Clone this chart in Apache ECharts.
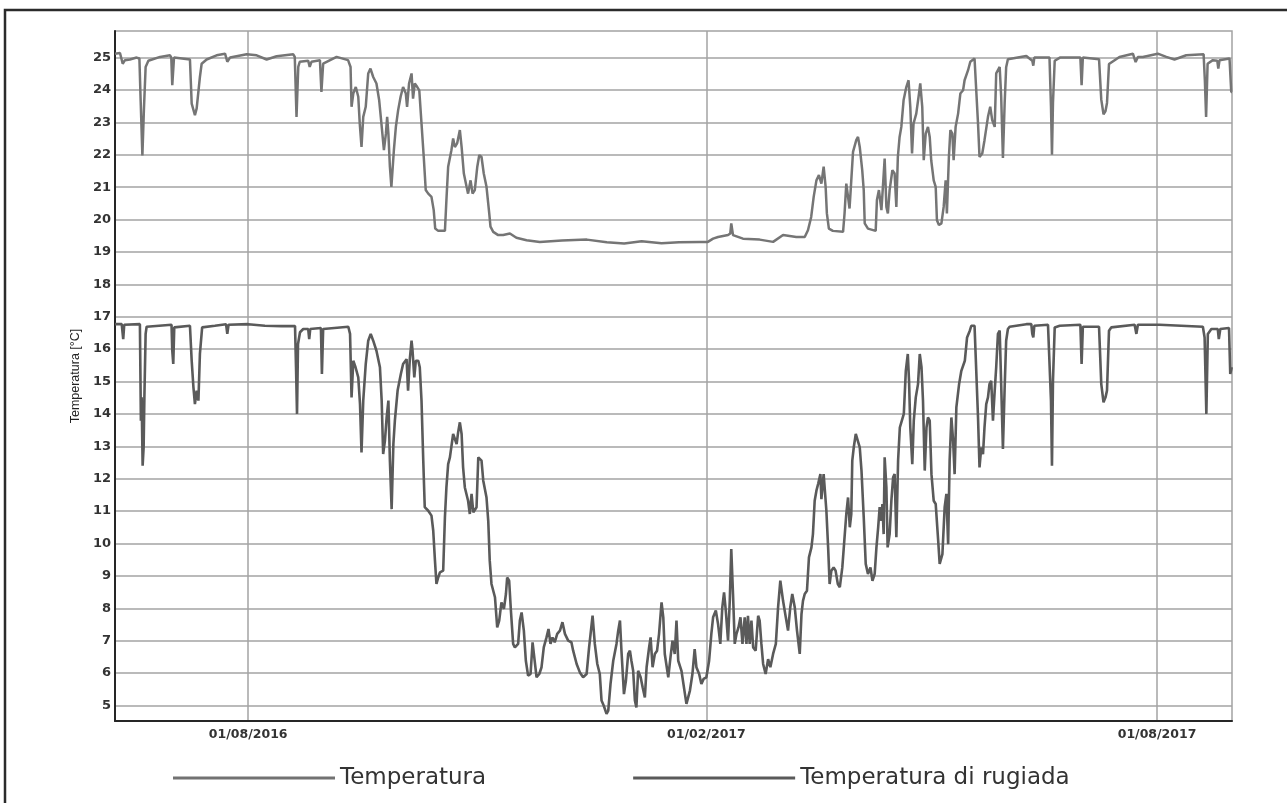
<!DOCTYPE html>
<html>
<head>
<meta charset="utf-8">
<script src="https://cdn.jsdelivr.net/npm/echarts@6/dist/echarts.min.js"></script>
<style>
  html, body { margin: 0; padding: 0; background: #fff; }
  #chart { width: 1287px; height: 803px; }
</style>
</head>
<body>
<div id="chart"></div>
<script>
// Day 0 of the readings (x values below are days since this date, UTC)
const START = Date.UTC(2016, 5, 8);
const DAY = 86400000;

const seriesNames = ['Temperatura', 'Temperatura di rugiada'];
const dateTicks = ['2016-08-01', '2017-02-01', '2017-08-01'];
const yTicks = [5, 6, 7, 8, 9, 10, 11, 12, 13, 14, 15, 16, 17, 18, 19, 20, 21, 22, 23, 24, 25];

// Temperatura [°C]: [day, value]
const tempPoints = [
  [0.5,25.12],[2.5,25.14],[3.6,24.81],[4.5,24.92],[6.5,24.94],[9.2,25.0],[10.3,24.97],[10.8,23.68],[11.5,21.98],[12.1,23.37],
  [12.8,24.71],[13.9,24.9],[18.6,25.02],[22.6,25.07],[23.1,25.0],[23.5,24.15],[24.2,25.0],[30.6,24.94],[31.3,23.58],[32.6,23.22],
  [33.3,23.43],[34.0,23.48],[34.6,24.4],[35.3,24.81],[37.3,24.94],[41.3,25.07],[44.7,25.12],[45.6,24.87],[46.7,25.0],[53.4,25.1],
  [57.4,25.07],[61.4,24.94],[65.4,25.04],[72.1,25.1],[72.7,25.02],[73.4,23.17],[74.1,24.71],[74.7,24.87],[78.1,24.9],[78.7,24.71],
  [79.4,24.87],[82.8,24.92],[83.4,23.94],[84.1,24.81],[89.5,25.02],[94.1,24.92],[95.1,24.71],[95.5,23.48],[96.2,23.89],[97.2,24.09],
  [98.2,23.79],[98.8,22.96],[99.5,22.24],[100.2,23.17],[101.2,23.48],[102.2,24.51],[103.1,24.66],[104.2,24.4],[105.5,24.2],[106.6,23.68],
  [107.5,22.96],[108.5,22.14],[109.3,22.65],[109.8,23.17],[110.3,22.65],[110.9,21.63],[111.5,21.01],[112.5,22.14],[113.3,22.86],[114.2,23.37],
  [115.2,23.79],[116.2,24.09],[117.3,23.89],[117.8,23.48],[118.6,24.2],[119.6,24.51],[120.2,23.73],[120.9,24.2],[121.9,24.09],[122.7,23.99],
  [123.6,22.96],[124.5,21.93],[125.3,20.91],[126.3,20.8],[127.6,20.7],[128.5,20.29],[129.1,19.72],[130.3,19.65],[133.0,19.65],[133.6,20.6],
  [134.3,21.63],[135.6,22.14],[136.3,22.5],[137.0,22.24],[137.9,22.35],[139.0,22.76],[139.7,22.24],[140.6,21.42],[141.7,21.01],[142.3,20.8],
  [143.3,21.21],[144.1,20.8],[145.0,20.91],[146.0,21.63],[146.8,21.99],[147.7,21.93],[148.6,21.42],[149.7,21.01],[150.8,20.19],[151.3,19.78],
  [152.4,19.62],[154.4,19.52],[156.4,19.52],[159.1,19.57],[161.7,19.44],[165.8,19.36],[171.1,19.31],[180,19.35],[190,19.38],[198,19.3],
  [205,19.26],[212,19.33],[220,19.27],[227,19.3],[235.3,19.31],[238.6,19.31],[240.7,19.41],[242.7,19.46],[246.7,19.52],[247.6,19.57],
  [248.0,19.88],[248.7,19.52],[252.7,19.41],[259.4,19.38],[264.8,19.31],[268.8,19.52],[274.1,19.46],[277.5,19.46],[278.8,19.67],[280.1,20.08],
  [281.1,20.7],[282.2,21.21],[283.2,21.37],[284.2,21.11],[285.1,21.63],[285.9,21.01],[286.4,20.19],[287.2,19.72],[288.8,19.65],[292.9,19.62],
  [293.5,20.19],[294.2,21.11],[294.9,20.7],[295.5,20.34],[296.2,21.21],[296.9,22.09],[298.2,22.45],[298.9,22.55],[299.6,22.24],[300.6,21.52],
  [301.2,20.91],[301.6,19.88],[302.9,19.72],[306.0,19.65],[306.5,20.6],[307.3,20.91],[308.3,20.29],[308.9,21.01],[309.6,21.88],[310.3,20.39],
  [310.9,20.19],[311.6,20.91],[312.7,21.52],[313.6,21.42],[314.3,20.39],[314.9,21.93],[315.6,22.55],[316.3,22.86],[317.2,23.68],[318.3,24.09],
  [319.2,24.3],[319.9,23.48],[320.6,22.04],[321.2,22.96],[322.3,23.27],[323.4,23.89],[323.9,24.2],[324.7,23.48],[325.3,21.83],[326.1,22.65],
  [327.0,22.86],[327.7,22.55],[328.3,21.83],[329.3,21.21],[330.1,21.01],[330.6,19.98],[331.4,19.83],[332.4,19.88],[333.3,20.39],[334.1,21.21],
  [334.6,20.19],[335.4,21.93],[336.0,22.76],[336.8,22.65],[337.3,21.83],[338.1,22.86],[339.1,23.27],[340.0,23.89],[341.1,23.99],[341.7,24.3],
  [343.1,24.61],[344.0,24.87],[345.7,24.97],[346.4,24.92],[347.1,22.96],[347.7,21.93],[348.8,22.04],[349.7,22.45],[351.1,23.17],[352.0,23.48],
  [352.8,23.07],[353.8,22.86],[354.4,24.51],[355.8,24.71],[356.4,23.8],[357.1,21.9],[357.8,23.6],[358.4,24.7],[359.1,24.95],[366.5,25.05],
  [368.9,24.9],[369.3,24.75],[369.7,25.0],[375.8,25.0],[376.4,23.5],[376.8,22.0],[377.2,23.6],[377.9,24.9],[380,25.0],[388.2,25.0],
  [388.7,24.15],[389.2,25.0],[395.7,24.95],[396.6,23.7],[397.5,23.25],[398.3,23.35],[398.9,23.6],[399.7,24.8],[403.9,25.02],[409.3,25.12],
  [410.4,24.86],[411.3,25.02],[413.3,25.02],[419.3,25.12],[422.7,25.02],[426.0,24.94],[430.7,25.07],[437.7,25.1],[438.2,24.3],[438.7,23.17],
  [439.3,24.81],[441.4,24.92],[443.2,24.9],[443.6,24.66],[444.1,24.92],[448.1,24.97],[448.8,23.94],[449.1,23.94]
];

// Temperatura di rugiada [°C]: [day, value]
const dewPoints = [
  [0.5,16.77],[3.2,16.77],[3.8,16.31],[4.2,16.75],[10.5,16.77],[10.9,13.79],[11.2,14.51],[11.6,12.4],[12.0,12.97],[12.3,14.51],
  [12.8,16.47],[13.2,16.69],[23.2,16.75],[23.5,15.95],[23.9,15.54],[24.3,16.67],[30.6,16.72],[31.3,15.64],[32.0,14.82],[32.6,14.3],
  [33.3,14.72],[34.0,14.41],[34.6,15.85],[35.5,16.67],[40.6,16.72],[45.1,16.77],[45.6,16.47],[46.1,16.75],[54.0,16.77],[60.7,16.72],
  [67.4,16.71],[72.8,16.71],[73.2,15.44],[73.6,14.0],[74.0,16.16],[74.8,16.52],[76.1,16.62],[78.1,16.62],[78.5,16.31],[78.9,16.62],
  [83.2,16.65],[83.6,15.23],[84.1,16.62],[94.2,16.69],[94.9,16.47],[95.5,14.51],[96.2,15.64],[97.1,15.44],[98.2,15.13],[98.9,14.3],
  [99.5,12.81],[100.2,14.41],[101.2,15.54],[102.2,16.26],[103.2,16.47],[104.2,16.26],[105.5,15.95],[106.9,15.44],[107.6,14.41],[108.2,12.76],
  [108.9,13.17],[109.6,13.89],[110.3,14.41],[110.9,12.56],[111.6,11.06],[112.3,13.07],[112.9,13.79],[114.0,14.72],[115.3,15.23],[116.2,15.54],
  [117.6,15.69],[118.2,14.72],[118.9,15.69],[119.6,16.26],[120.0,15.95],[120.7,15.13],[121.3,15.64],[122.3,15.64],[122.9,15.44],[123.6,14.41],
  [124.3,12.56],[124.9,11.12],[126.3,11.01],[127.6,10.86],[128.3,10.4],[129.0,9.47],[129.6,8.75],[130.3,8.95],[131.0,9.11],[132.3,9.16],
  [133.0,10.81],[133.6,11.73],[134.3,12.45],[135.0,12.66],[136.3,13.38],[137.0,13.43],[137.7,13.07],[138.3,13.43],[139.0,13.74],[139.7,13.38],
  [140.3,12.35],[141.0,11.73],[142.3,11.32],[143.0,10.91],[143.7,11.53],[144.4,10.96],[145.7,11.12],[146.4,12.66],[147.0,12.71],[147.7,12.56],
  [148.4,11.94],[149.7,11.42],[150.4,10.7],[151.0,9.47],[151.7,8.75],[153.1,8.34],[154.0,7.41],[154.8,7.62],[155.7,8.18],[156.7,7.98],
  [157.5,8.44],[158.0,8.95],[158.8,8.85],[159.5,7.93],[160.4,6.9],[161.1,6.79],[162.4,6.9],[163.1,7.62],[163.8,7.87],[164.7,7.31],
  [165.5,6.38],[166.4,5.92],[167.4,5.97],[168.2,6.95],[168.7,6.9],[169.8,5.87],[170.9,5.97],[171.8,6.18],[172.7,6.79],[173.8,7.1],
  [174.6,7.36],[175.4,6.9],[176.2,7.1],[177.1,6.95],[178.1,7.21],[179.2,7.31],[180.2,7.57],[181.2,7.21],[182.5,7.0],[183.8,6.95],
  [184.5,6.69],[185.9,6.28],[187.2,6.02],[188.5,5.87],[189.9,5.97],[190.9,6.79],[191.5,7.21],[192.3,7.77],[193.2,6.9],[194.2,6.28],
  [195.2,5.97],[195.9,5.15],[196.8,4.99],[197.9,4.74],[198.6,4.84],[199.5,5.66],[200.6,6.38],[201.9,6.9],[202.6,7.31],[203.3,7.62],
  [203.9,6.69],[204.9,5.35],[205.7,5.77],[206.6,6.59],[207.3,6.69],[207.9,6.38],[208.6,6.07],[209.3,5.15],[209.9,4.94],[210.6,6.07],
  [211.6,5.87],[212.4,5.56],[213.3,5.25],[214.0,6.18],[215.0,6.79],[215.6,7.1],[216.4,6.18],[217.3,6.59],[218.2,6.69],[219.0,7.21],
  [220.0,8.18],[220.7,7.72],[221.3,6.59],[222.7,5.87],[223.6,6.49],[224.4,7.0],[225.3,6.59],[226.0,7.62],[226.7,6.38],[228.0,6.07],
  [229.4,5.35],[230.0,5.05],[231.4,5.46],[232.4,5.97],[233.3,6.74],[234.0,6.18],[235.1,5.97],[236.0,5.66],[236.9,5.82],[238.0,5.87],
  [239.1,6.38],[240.0,7.21],[240.7,7.72],[241.8,7.93],[242.7,7.51],[243.6,6.9],[244.4,8.03],[245.1,8.49],[245.8,7.93],[246.7,7.0],
  [247.4,8.23],[248.0,9.83],[248.7,8.44],[249.4,6.9],[250.1,7.21],[250.9,7.41],[251.7,7.72],[252.5,6.9],[253.4,7.72],[254.1,6.9],
  [254.7,7.77],[255.4,6.9],[256.1,7.62],[256.8,6.79],[257.8,6.69],[258.8,7.77],[259.4,7.62],[260.1,6.9],[260.8,6.28],[261.8,5.97],
  [262.8,6.43],[263.7,6.18],[264.8,6.59],[265.9,6.9],[266.8,8.03],[267.7,8.85],[268.8,8.23],[269.9,7.72],[270.8,7.31],[271.7,8.03],
  [272.5,8.44],[273.5,8.03],[274.4,7.31],[275.5,6.59],[276.2,7.82],[276.8,8.23],[277.5,8.44],[278.4,8.54],[279.2,9.57],[280.2,9.88],
  [280.8,10.29],[281.5,11.32],[282.2,11.63],[282.9,11.84],[283.8,12.14],[284.2,11.37],[285.1,12.14],[286.2,11.01],[286.9,9.88],[287.5,8.75],
  [288.2,9.16],[289.1,9.26],[289.9,9.16],[290.8,8.75],[291.6,8.65],[292.6,9.26],[293.4,10.09],[294.2,10.91],[294.9,11.42],[295.6,10.5],
  [296.2,10.91],[296.6,12.56],[297.2,12.97],[298.0,13.38],[298.5,13.43],[299.6,12.97],[300.3,12.25],[301.2,10.81],[302.0,9.37],[302.9,9.06],
  [303.9,9.26],[304.7,8.85],[305.6,9.06],[306.3,9.88],[307.0,10.5],[307.6,11.12],[308.3,10.7],[308.7,11.22],[309.2,10.29],[309.6,12.66],
  [310.3,11.73],[310.8,9.88],[311.6,10.29],[312.3,11.32],[313.0,12.04],[313.6,12.14],[314.3,10.19],[315.0,12.56],[315.7,13.58],[316.3,13.74],
  [317.3,14.0],[318.1,15.33],[318.9,15.85],[319.4,15.02],[319.9,13.58],[320.7,12.45],[321.3,13.79],[322.1,14.51],[323.0,14.92],[323.7,15.85],
  [324.4,15.44],[325.0,14.41],[325.7,12.25],[326.4,13.58],[327.0,13.89],[327.7,13.79],[328.4,12.14],[329.3,11.32],[330.1,11.22],[331.1,10.09],
  [331.7,9.37],[332.8,9.67],[333.7,11.12],[334.4,11.53],[335.1,9.98],[335.7,12.56],[336.4,13.89],[337.1,13.17],[337.7,12.14],[338.4,14.2],
  [339.5,14.92],[340.4,15.33],[341.8,15.64],[342.7,16.36],[343.8,16.57],[344.4,16.72],[345.7,16.72],[346.4,16.67],[347.1,13.89],[347.7,12.35],
  [348.4,12.97],[349.1,12.76],[349.7,13.58],[350.4,14.3],[351.1,14.51],[351.7,14.92],[352.4,15.02],[353.1,13.79],[353.8,14.72],[354.4,15.44],
  [355.1,16.47],[355.8,16.57],[356.4,14.92],[357.1,12.92],[357.8,14.82],[358.4,16.26],[359.1,16.62],[359.8,16.69],[366.5,16.77],[368.5,16.77],
  [368.9,16.47],[369.3,16.36],[369.7,16.72],[375.2,16.75],[375.8,16.72],[376.4,14.41],[376.8,12.4],[377.2,15.02],[377.9,16.67],[379.9,16.72],
  [388.2,16.75],[388.7,15.54],[389.2,16.69],[395.7,16.69],[396.6,14.92],[397.5,14.36],[398.3,14.51],[398.9,14.72],[399.7,16.57],[400.6,16.67],
  [410.0,16.75],[410.7,16.47],[411.3,16.75],[420.0,16.75],[437.4,16.69],[438.1,16.36],[438.8,14.0],[439.4,16.47],[440.8,16.62],[443.4,16.62],
  [443.8,16.31],[444.4,16.62],[447.9,16.65],[448.4,15.23],[449.0,15.44]
];

// x axis runs in days since START; labels are printed as dates
const tickDays = dateTicks.map(s => (Date.parse(s + 'T00:00:00Z') - START) / DAY);
const pad = n => (n < 10 ? '0' : '') + n;
const fmtDay = v => {
  const d = new Date(START + v * DAY);
  return pad(d.getUTCDate()) + '/' + pad(d.getUTCMonth() + 1) + '/' + d.getUTCFullYear();
};

const gridGray = '#a3a3a3';
const axisDark = '#262626';
const labelFont = { fontFamily: 'DejaVu Sans', fontWeight: 'bold', color: '#333' };

const chart = echarts.init(document.getElementById('chart'), null, { renderer: 'canvas' });
chart.setOption({
  animation: false,
  backgroundColor: '#fff',
  graphic: [{
    type: 'rect',
    shape: { x: 5, y: 10, width: 1300, height: 900 },
    style: { fill: 'none', stroke: '#2b2b2b', lineWidth: 2.5 },
    silent: true
  }],
  grid: {
    left: 115, right: 55, top: 31, bottom: 82,
    show: true, borderColor: gridGray, borderWidth: 1.5, backgroundColor: 'transparent'
  },
  legend: {
    left: 173, top: 765, padding: 0,
    icon: 'rect', itemWidth: 162, itemHeight: 3, itemGap: 147,
    textStyle: { fontFamily: 'DejaVu Sans', fontSize: 23, color: '#333', lineHeight: 26 },
    data: [
      { name: seriesNames[0], itemStyle: { color: '#727272' } },
      { name: seriesNames[1], itemStyle: { color: '#5a5a5a' } }
    ]
  },
  xAxis: {
    type: 'value',
    min: 0.5,
    max: 449.1,
    axisLine: { show: true, onZero: false, lineStyle: { color: axisDark, width: 2 } },
    axisTick: { show: false, customValues: tickDays },
    axisLabel: Object.assign({ customValues: tickDays, formatter: fmtDay, margin: 7, fontSize: 12.5 }, labelFont),
    splitLine: { show: true, lineStyle: { color: gridGray, width: 1.5 } }
  },
  yAxis: {
    type: 'value',
    min: 4.52, max: 25.82,
    name: 'Temperatura [°C]',
    nameLocation: 'middle', nameGap: 27, nameRotate: 90,
    nameTextStyle: { fontFamily: "'Liberation Sans Narrow', 'Liberation Sans', sans-serif", fontSize: 12.5, color: '#222' },
    axisLine: { show: true, onZero: false, lineStyle: { color: axisDark, width: 2 } },
    axisTick: { show: false, customValues: yTicks },
    axisLabel: Object.assign({ customValues: yTicks, margin: 4, fontSize: 13 }, labelFont),
    splitLine: { show: true, lineStyle: { color: gridGray, width: 1.5 } }
  },
  series: [
    {
      name: seriesNames[0], type: 'line', showSymbol: false, symbol: 'none',
      lineStyle: { color: '#757575', width: 2.5 }, itemStyle: { color: '#727272' },
      data: tempPoints
    },
    {
      name: seriesNames[1], type: 'line', showSymbol: false, symbol: 'none',
      lineStyle: { color: '#5a5a5a', width: 2.6 }, itemStyle: { color: '#5a5a5a' },
      data: dewPoints
    }
  ]
});
</script>
</body>
</html>
